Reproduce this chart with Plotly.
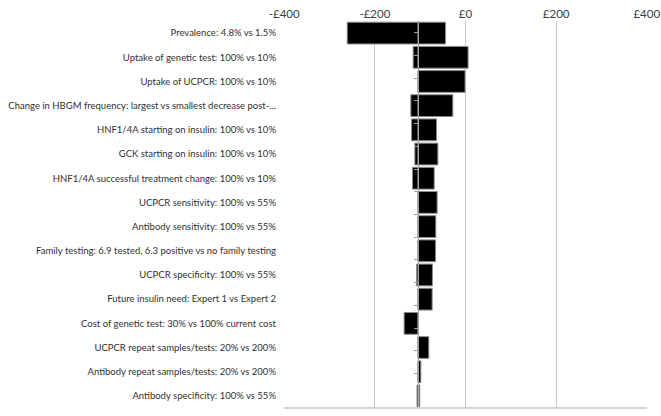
import plotly.graph_objects as go

categories = [
    "Prevalence: 4.8% vs 1.5%",
    "Uptake of genetic test: 100% vs 10%",
    "Uptake of UCPCR: 100% vs 10%",
    "Change in HBGM frequency: largest vs smallest decrease post-...",
    "HNF1/4A starting on insulin: 100% vs 10%",
    "GCK starting on insulin: 100% vs 10%",
    "HNF1/4A successful treatment change: 100% vs 10%",
    "UCPCR sensitivity: 100% vs 55%",
    "Antibody sensitivity: 100% vs 55%",
    "Family testing: 6.9 tested, 6.3 positive vs no family testing",
    "UCPCR specificity: 100% vs 55%",
    "Future insulin need: Expert 1 vs Expert 2",
    "Cost of genetic test: 30% vs 100% current cost",
    "UCPCR repeat samples/tests: 20% vs 200%",
    "Antibody repeat samples/tests: 20% vs 200%",
    "Antibody specificity: 100% vs 55%",
]
base_value = -104.5
low_values = [-261, -115.5, -104.5, -120.6, -119, -111.8, -117, -104.5,
              -104.5, -104.5, -108, -104.5, -135.4, -104.5, -104.5, -107]
high_values = [-44, 5.7, -1, -28, -64, -61, -69, -62.6,
               -65.5, -66, -73, -73.6, -104.5, -81, -98.6, -101]
tick_values = [-400, -200, 0, 200, 400]
tick_labels = ["-£400", "-£200", "£0", "£200", "£400"]
x_range = [-400.5, 400.5]

FONT = "Lato, sans-serif"

fig = go.Figure()
for vals in (low_values, high_values):
    fig.add_trace(go.Bar(
        y=categories,
        x=[v - base_value for v in vals],
        base=[base_value] * len(vals),
        orientation="h",
        marker=dict(color="black", line=dict(color="#8c8c8c", width=1)),
        showlegend=False,
        hoverinfo="skip",
    ))

fig.add_trace(go.Scatter(
    y=categories, x=[base_value] * len(categories), yaxis="y2",
    mode="markers", marker=dict(opacity=0), showlegend=False, hoverinfo="skip",
))

pos = (base_value - x_range[0]) / (x_range[1] - x_range[0])

fig.update_layout(
    width=661, height=416,
    margin=dict(l=284, r=14, t=21, b=8),
    paper_bgcolor="white", plot_bgcolor="white",
    barmode="overlay", bargap=0.1,
    font=dict(family=FONT, size=11, color="#404040"),
    xaxis=dict(
        range=x_range, side="top", tickvals=tick_values, ticktext=tick_labels,
        showgrid=True, gridcolor="#c8c8c8", gridwidth=1, zeroline=False,
        showline=False, ticks="", tickfont=dict(size=11.5, color="#404040"),
        automargin=False, fixedrange=True,
    ),
    yaxis=dict(
        categoryorder="array", categoryarray=categories, autorange="reversed",
        showgrid=False, zeroline=False, showline=False, ticks="",
        ticklabelstandoff=7, tickfont=dict(size=9.5, color="#303030"),
        automargin=False,
    ),
    yaxis2=dict(
        overlaying="y", anchor="free", position=pos, side="left",
        categoryorder="array", categoryarray=categories, autorange="reversed",
        showgrid=False, zeroline=False, showline=True, linecolor="#a0a0a0",
        linewidth=1, ticks="outside", ticklen=4, tickcolor="#a0a0a0",
        tickson="boundaries", showticklabels=False, automargin=False,
    ),
    shapes=[dict(type="line", xref="paper", yref="paper", x0=0, x1=1, y0=0, y1=0,
                 line=dict(color="#c8c8c8", width=1.5))],
)

fig.write_html("out.html", config={"displayModeBar": False},
               post_script="document.body.style.margin='0';")
